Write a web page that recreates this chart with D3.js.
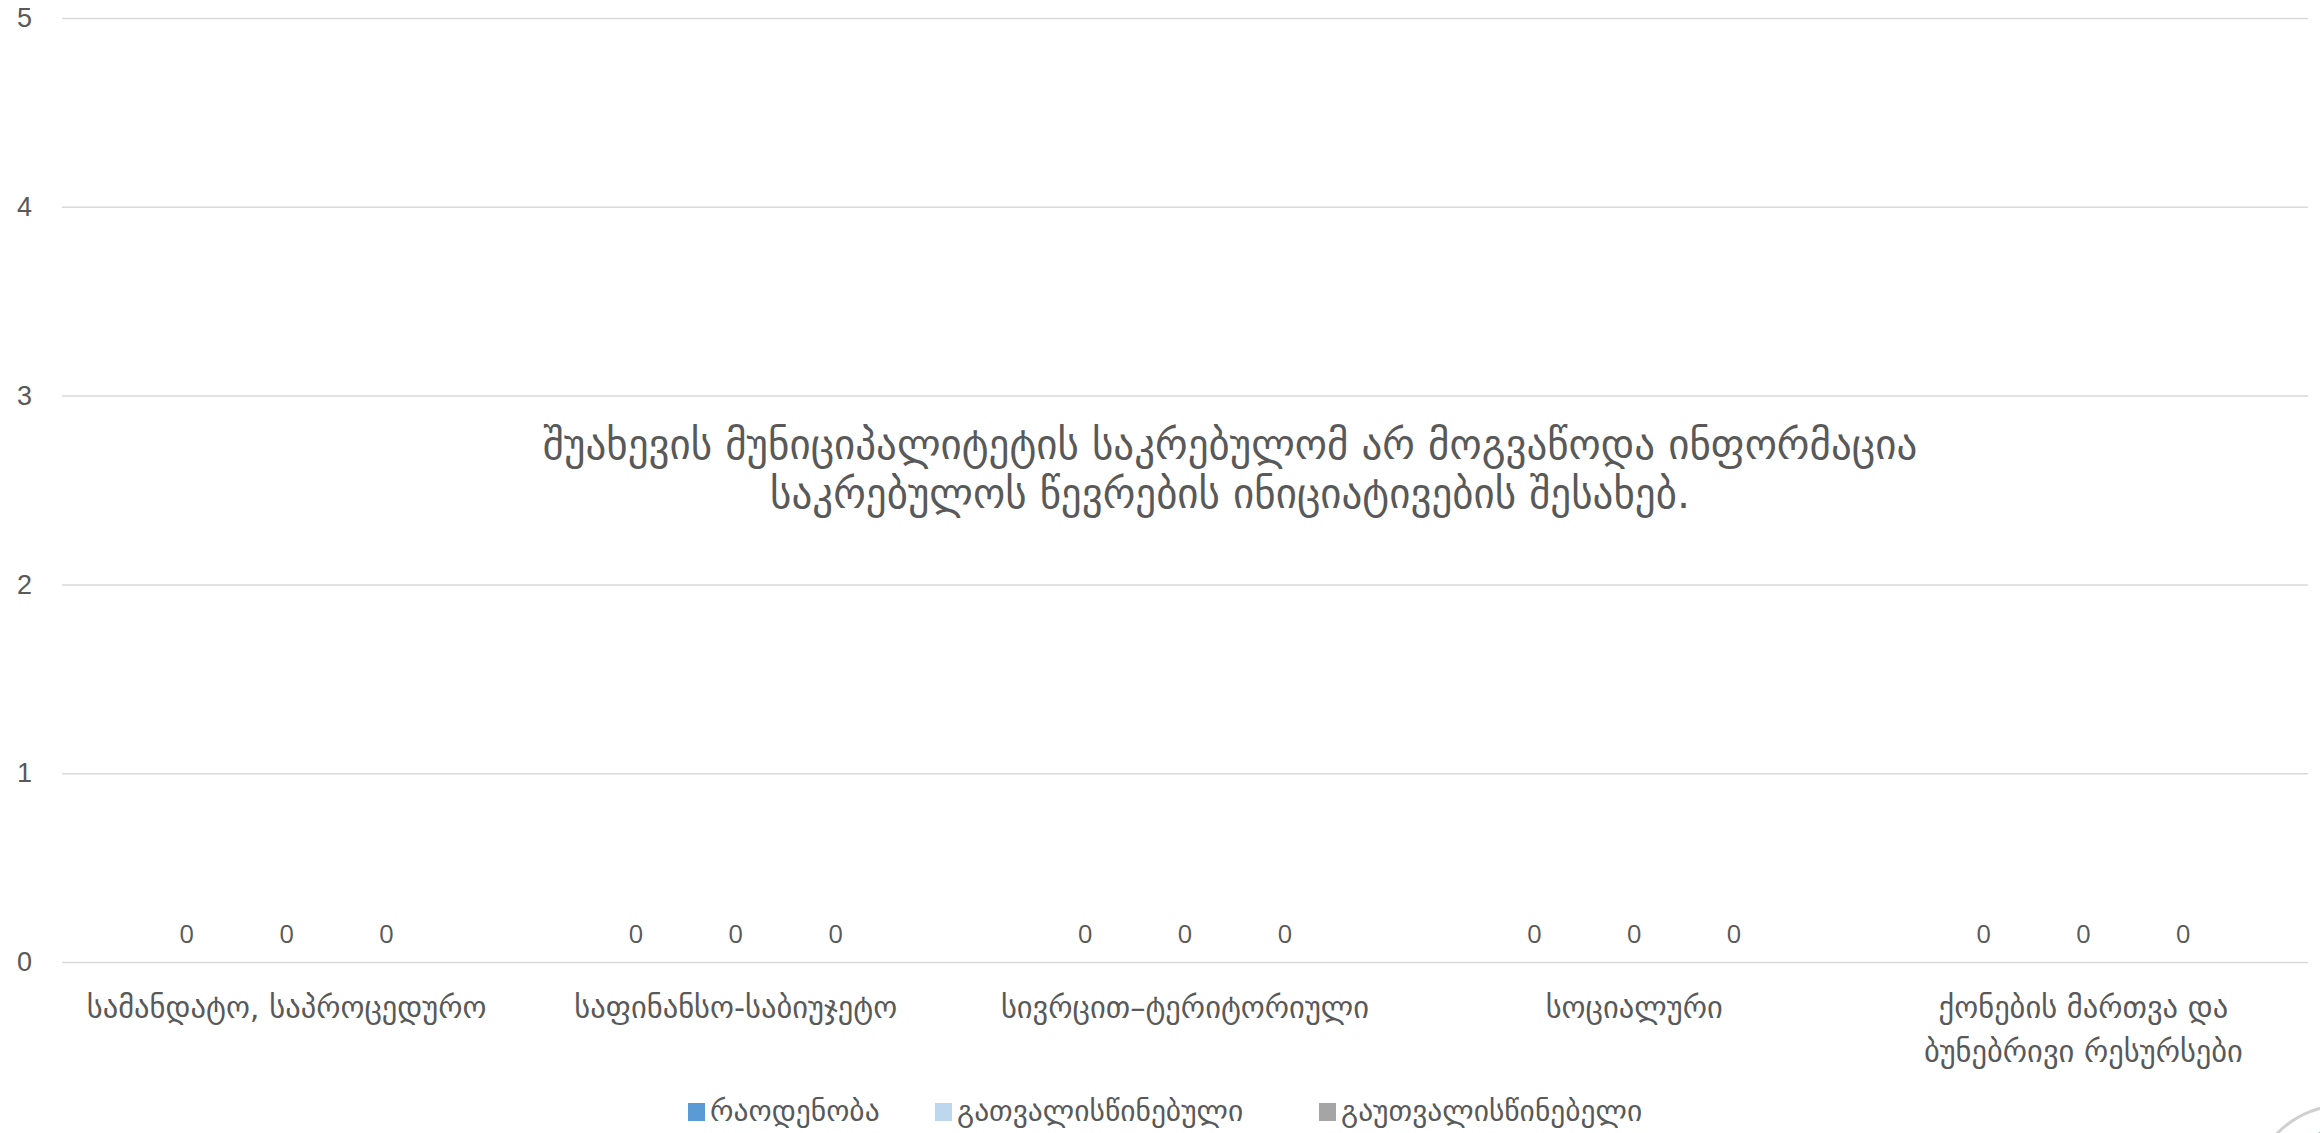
<!DOCTYPE html>
<html><head><meta charset="utf-8">
<script src="https://cdn.jsdelivr.net/npm/d3@7"></script>
<style>body{margin:0;background:#fff;overflow:hidden}svg{display:block}</style>
</head><body>
<svg id="chart" width="2320" height="1133"></svg>
<script>
const categories = ["სამანდატო, საპროცედურო", "საფინანსო-საბიუჯეტო", "სივრცით–ტერიტორიული", "სოციალური", "ქონების მართვა და ბუნებრივი რესურსები"];
const seriesNames = ["რაოდენობა", "გათვალისწინებული", "გაუთვალისწინებელი"];
const countValues = [0, 0, 0, 0, 0];
const consideredValues = [0, 0, 0, 0, 0];
const unconsideredValues = [0, 0, 0, 0, 0];
const yTicks = [0, 1, 2, 3, 4, 5];
const noteLines = ["შუახევის მუნიციპალიტეტის საკრებულომ არ მოგვაწოდა ინფორმაცია", "საკრებულოს წევრების ინიციატივების შესახებ."];

const seriesValues = [countValues, consideredValues, unconsideredValues];
const color = d3.scaleOrdinal().domain(seriesNames).range(["#5B9BD5", "#BDD7EE", "#A5A5A5"]);
const FONT = "'Open Sans', 'DejaVu Sans', sans-serif";
const GEO = "'DejaVu Sans', sans-serif";
const TXT = "#595959";

const svg = d3.select("#chart");
const plotL = 62, plotR = 2308, plotT = 18, plotB = 962;

const x = d3.scaleBand().domain(categories).range([plotL, plotR]).paddingInner(0).paddingOuter(0);
const xs = d3.scaleBand().domain(seriesNames).range([0, x.bandwidth()]).paddingInner(0).paddingOuter(0.75);
const y = d3.scaleLinear().domain([0, 5]).range([plotB, plotT]);

// gridlines + y labels
const yAxis = svg.append("g").attr("transform", `translate(${plotL},0)`)
  .call(d3.axisLeft(y).tickValues(yTicks).tickSize(-(plotR - plotL)).tickPadding(30).tickFormat(d3.format("d")));
yAxis.select(".domain").remove();
yAxis.selectAll(".tick line").attr("stroke", "#D9D9D9").attr("stroke-width", 1.5);
yAxis.selectAll(".tick text").attr("fill", TXT).style("font-family", "'Liberation Sans', sans-serif").style("font-size", "27px");

// bars & labels
const rows = [];
categories.forEach((c, i) => seriesNames.forEach((s, j) => rows.push({cat: c, ser: s, v: seriesValues[j][i]})));
const g = svg.append("g");
g.selectAll("rect").data(rows).join("rect")
  .attr("x", d => x(d.cat) + xs(d.ser)).attr("width", xs.bandwidth())
  .attr("y", d => y(d.v)).attr("height", d => y(0) - y(d.v))
  .attr("fill", d => color(d.ser));
g.selectAll("text.lbl").data(rows).join("text").attr("class", "lbl")
  .attr("x", d => x(d.cat) + xs(d.ser) + xs.bandwidth() / 2)
  .attr("y", d => y(d.v) - 19)
  .attr("text-anchor", "middle").attr("fill", TXT)
  .style("font-family", FONT).style("font-size", "26px")
  .text(d => d.v);

// category axis labels with wrapping
const catSize = 30.5;
const xg = svg.append("g");
categories.forEach(c => {
  const t = xg.append("text").attr("x", x(c) + x.bandwidth() / 2).attr("y", 1018)
    .attr("text-anchor", "middle").attr("fill", TXT)
    .style("font-family", GEO).style("font-size", catSize + "px");
  const words = c.split(" ");
  let line = [], lines = [];
  const probe = t.append("tspan");
  words.forEach(w => {
    const test = line.concat([w]).join(" ");
    probe.text(test);
    if (probe.node().getComputedTextLength() > x.bandwidth() - 10 && line.length) {
      lines.push(line.join(" ")); line = [w];
    } else line.push(w);
  });
  lines.push(line.join(" "));
  probe.remove();
  lines.forEach((l, k) => t.append("tspan").attr("x", x(c) + x.bandwidth() / 2).attr("dy", k ? 44 : 0).text(l));
});

// note
const note = svg.append("text").attr("x", 1230).attr("y", 459).attr("text-anchor", "middle")
  .attr("fill", TXT).style("font-family", GEO).style("font-size", "41px");
noteLines.forEach((l, k) => note.append("tspan").attr("x", 1230).attr("dy", k ? 49 : 0).text(l));

// legend
const legX = [688, 935, 1319];
const leg = svg.append("g");
seriesNames.forEach((s, i) => {
  leg.append("rect").attr("x", legX[i]).attr("y", 1103).attr("width", 17).attr("height", 18).attr("fill", color(s));
  leg.append("text").attr("x", legX[i] + 22).attr("y", 1121).attr("fill", TXT)
    .style("font-family", GEO).style("font-size", "29.5px").text(s);
});

// partial logo watermark
const logo = svg.append("g").attr("transform", "translate(2345,1200)");
logo.append("circle").attr("r", 95).attr("fill", "#fff").attr("stroke", "#d0d0d0").attr("stroke-width", 3);
logo.append("circle").attr("r", 70).attr("fill", "none").attr("stroke", "#2a9fd8").attr("stroke-width", 4);
</script>
</body></html>
